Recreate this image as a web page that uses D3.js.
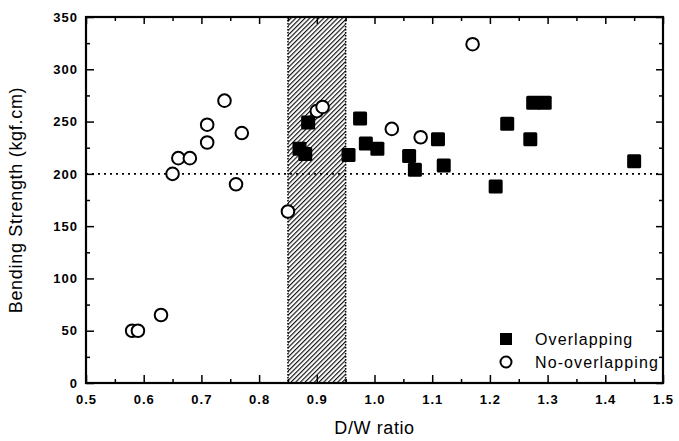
<!DOCTYPE html>
<html>
<head>
<meta charset="utf-8">
<script src="https://cdn.jsdelivr.net/npm/d3@7"></script>
<style>
  body { margin: 0; background: #fff; }
  text { font-family: "Liberation Sans", Arial, sans-serif; }
</style>
</head>
<body>
<div id="chart"></div>
<script>
// data
const overlapX = [0.87, 0.88, 0.885, 0.955, 0.975, 0.985, 1.005, 1.06, 1.07, 1.11, 1.12, 1.21, 1.23, 1.27, 1.275, 1.295, 1.45];
const overlapY = [224, 219, 249, 218, 253, 229, 224, 217, 204, 233, 208, 188, 248, 233, 268, 268, 212];
const noOverlapX = [0.58, 0.59, 0.63, 0.65, 0.66, 0.68, 0.71, 0.71, 0.74, 0.76, 0.77, 0.85, 0.90, 0.91, 1.03, 1.08, 1.17];
const noOverlapY = [50, 50, 65, 200, 215, 215, 230, 247, 270, 190, 239, 164, 260, 264, 243, 235, 324];
const xTicks = [0.5, 0.6, 0.7, 0.8, 0.9, 1.0, 1.1, 1.2, 1.3, 1.4, 1.5];
const yTicks = [0, 50, 100, 150, 200, 250, 300, 350];
const band = [0.85, 0.95];
const threshold = 200;

const margin = {top: 17, right: 16, bottom: 58, left: 86},
  width = 679 - margin.left - margin.right,
  height = 441 - margin.top - margin.bottom;

const svg = d3.select("#chart")
  .append("svg")
  .attr("width", 679)
  .attr("height", 441)
  .append("g")
  .attr("transform", `translate(${margin.left},${margin.top})`);

const x = d3.scaleLinear().domain([0.5, 1.5]).range([0, width]);
const y = d3.scaleLinear().domain([0, 350]).range([height, 0]);

// hatch pattern for the band
const defs = svg.append("defs");
const pat = defs.append("pattern")
  .attr("id", "hatch")
  .attr("patternUnits", "userSpaceOnUse")
  .attr("width", 3.3).attr("height", 3.3)
  .attr("patternTransform", "rotate(45)");
pat.append("rect").attr("width", 3.3).attr("height", 3.3).attr("fill", "#fff");
pat.append("line")
  .attr("x1", 0).attr("y1", 0).attr("x2", 0).attr("y2", 3.3)
  .attr("stroke", "#111").attr("stroke-width", 2.3);

svg.append("rect")
  .attr("x", x(band[0]))
  .attr("y", 0)
  .attr("width", x(band[1]) - x(band[0]))
  .attr("height", height)
  .attr("fill", "url(#hatch)");
svg.selectAll(".bandedge")
  .data(band)
  .join("line")
  .attr("x1", d => x(d)).attr("x2", d => x(d))
  .attr("y1", 0).attr("y2", height)
  .attr("stroke", "#000").attr("stroke-width", 1.5)
  .attr("stroke-dasharray", "1.5,1.5");

// dotted line at 200
svg.append("line")
  .attr("x1", 0).attr("x2", width)
  .attr("y1", y(threshold)).attr("y2", y(threshold))
  .attr("stroke", "#000").attr("stroke-width", 1.6)
  .attr("stroke-dasharray", "2,4");

// axes, ticks pointing inward
const xMinor = d3.range(0.55, 1.5, 0.1);
const yMinor = d3.range(25, 350, 50);

svg.append("g")
  .attr("transform", `translate(0,${height})`)
  .call(d3.axisBottom(x).tickValues(xTicks).tickFormat(d3.format(".1f")).tickSizeInner(-8).tickSizeOuter(0).tickPadding(12))
  .call(g => g.selectAll("text").attr("font-size", 13).attr("font-weight", "bold").attr("letter-spacing", 1));
svg.append("g")
  .attr("transform", `translate(0,${height})`)
  .call(d3.axisBottom(x).tickValues(xMinor).tickFormat("").tickSizeInner(-4).tickSizeOuter(0));
svg.append("g")
  .call(d3.axisTop(x).tickValues(xTicks).tickFormat("").tickSizeInner(-7).tickSizeOuter(0));
svg.append("g")
  .call(d3.axisTop(x).tickValues(xMinor).tickFormat("").tickSizeInner(-4).tickSizeOuter(0));

svg.append("g")
  .call(d3.axisLeft(y).tickValues(yTicks).tickSizeInner(-8).tickSizeOuter(0).tickPadding(8))
  .call(g => g.selectAll("text").attr("font-size", 13).attr("font-weight", "bold").attr("letter-spacing", 1));
svg.append("g")
  .call(d3.axisLeft(y).tickValues(yMinor).tickFormat("").tickSizeInner(-4).tickSizeOuter(0));
svg.append("g")
  .attr("transform", `translate(${width},0)`)
  .call(d3.axisRight(y).tickValues(yTicks).tickFormat("").tickSizeInner(-7).tickSizeOuter(0));
svg.append("g")
  .attr("transform", `translate(${width},0)`)
  .call(d3.axisRight(y).tickValues(yMinor).tickFormat("").tickSizeInner(-4).tickSizeOuter(0));

svg.selectAll(".domain").remove();
svg.selectAll(".tick line").attr("stroke", "#000").attr("stroke-width", 1.5);

// frame
svg.append("rect")
  .attr("width", width).attr("height", height)
  .attr("fill", "none").attr("stroke", "#000").attr("stroke-width", 2.2);

// points
const sq = 14;
svg.selectAll(".sq")
  .data(overlapX.map((d, i) => [d, overlapY[i]]))
  .join("rect")
  .attr("x", d => x(d[0]) - sq / 2)
  .attr("y", d => y(d[1]) - sq / 2)
  .attr("width", sq).attr("height", sq)
  .attr("rx", 1.5)
  .attr("fill", "#000");

svg.selectAll(".circ")
  .data(noOverlapX.map((d, i) => [d, noOverlapY[i]]))
  .join("circle")
  .attr("cx", d => x(d[0]))
  .attr("cy", d => y(d[1]))
  .attr("r", 6.3)
  .attr("fill", "#fff")
  .attr("stroke", "#000").attr("stroke-width", 2);

// legend
const lg = svg.append("g").attr("transform", `translate(${506 - margin.left},${339 - margin.top})`);
lg.append("rect").attr("x", -6).attr("y", -6).attr("width", 12).attr("height", 12).attr("fill", "#000");
lg.append("text").attr("x", 29).attr("y", 5.5).attr("font-size", 16).attr("letter-spacing", 1.1).text("Overlapping");
lg.append("circle").attr("cx", 0).attr("cy", 23).attr("r", 5.5)
  .attr("fill", "#fff").attr("stroke", "#000").attr("stroke-width", 2);
lg.append("text").attr("x", 29).attr("y", 28.5).attr("font-size", 16).attr("letter-spacing", 1.1).text("No-overlapping");

// axis titles
svg.append("text")
  .attr("x", width / 2).attr("y", height + 51)
  .attr("text-anchor", "middle").attr("font-size", 18).attr("letter-spacing", 0.6)
  .text("D/W ratio");
svg.append("text")
  .attr("transform", `translate(-64,${height / 2}) rotate(-90)`)
  .attr("text-anchor", "middle").attr("font-size", 18).attr("letter-spacing", 0.7)
  .text("Bending Strength (kgf.cm)");
</script>
</body>
</html>
